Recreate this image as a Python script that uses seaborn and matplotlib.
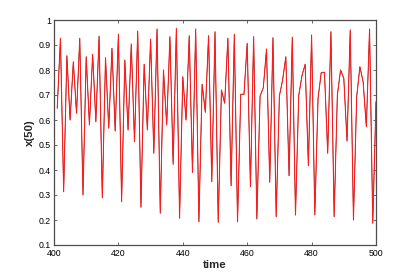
import numpy as np
import pandas as pd
import matplotlib
matplotlib.use("Agg")
import matplotlib.pyplot as plt
import seaborn as sns

time = list(range(401, 501))
x50 = [0.647, 0.927, 0.313, 0.857, 0.600, 0.833, 0.627, 0.927, 0.300, 0.853,
       0.580, 0.863, 0.593, 0.935, 0.289, 0.849, 0.567, 0.887, 0.556, 0.943,
       0.273, 0.840, 0.560, 0.904, 0.513, 0.956, 0.251, 0.823, 0.560, 0.924,
       0.467, 0.964, 0.227, 0.800, 0.580, 0.933, 0.423, 0.967, 0.207, 0.773,
       0.600, 0.937, 0.390, 0.964, 0.193, 0.743, 0.631, 0.937, 0.353, 0.953,
       0.191, 0.720, 0.667, 0.927, 0.337, 0.943, 0.193, 0.703, 0.703, 0.907,
       0.333, 0.933, 0.204, 0.696, 0.729, 0.884, 0.351, 0.929, 0.213, 0.697,
       0.760, 0.853, 0.377, 0.931, 0.220, 0.697, 0.777, 0.823, 0.417, 0.940,
       0.220, 0.687, 0.790, 0.791, 0.467, 0.953, 0.213, 0.700, 0.800, 0.767,
       0.516, 0.960, 0.200, 0.693, 0.813, 0.753, 0.573, 0.964, 0.187, 0.673]
xticks = [400, 420, 440, 460, 480, 500]
yticks = [0.1, 0.2, 0.3, 0.4, 0.5, 0.6, 0.7, 0.8, 0.9, 1.0]
yticklabels = ["0.1", "0.2", "0.3", "0.4", "0.5", "0.6", "0.7", "0.8", "0.9", "1"]

df = pd.DataFrame({"time": time, "x50": x50})

sns.set_style("white")
plt.rcParams["font.family"] = ["Liberation Sans", "DejaVu Sans"]

fig = plt.figure(figsize=(4.15, 2.77), dpi=100)
ax = fig.add_axes([54 / 415, 1 - 245 / 277, (376 - 54) / 415, (245 - 20) / 277])

sns.lineplot(data=df, x="time", y="x50", ax=ax, color="black", linewidth=0.35)
sns.lineplot(data=df, x="time", y="x50", ax=ax, color="#ff1a1a", linewidth=0.75)

ax.set_xlim(400, 500)
ax.set_ylim(0.1, 1.0)
ax.set_xticks(xticks)
ax.set_xticklabels([str(t) for t in xticks])
ax.set_yticks(yticks)
ax.set_yticklabels(yticklabels)

for s in ax.spines.values():
    s.set_visible(True)
    s.set_color("#4d4d4d")
    s.set_linewidth(0.9)

ax.tick_params(direction="in", length=2.5, width=0.6, color="#4d4d4d",
               labelsize=6.3, top=True, right=True, bottom=True, left=True,
               labelcolor="black")
ax.tick_params(axis="x", pad=3)
ax.tick_params(axis="y", pad=2)

ax.set_xlabel("time", fontsize=8.2, fontweight="bold", labelpad=1)
ax.set_ylabel("x(50)", fontsize=8.2, fontweight="bold", labelpad=3)

fig.savefig("out.png", dpi=100)
